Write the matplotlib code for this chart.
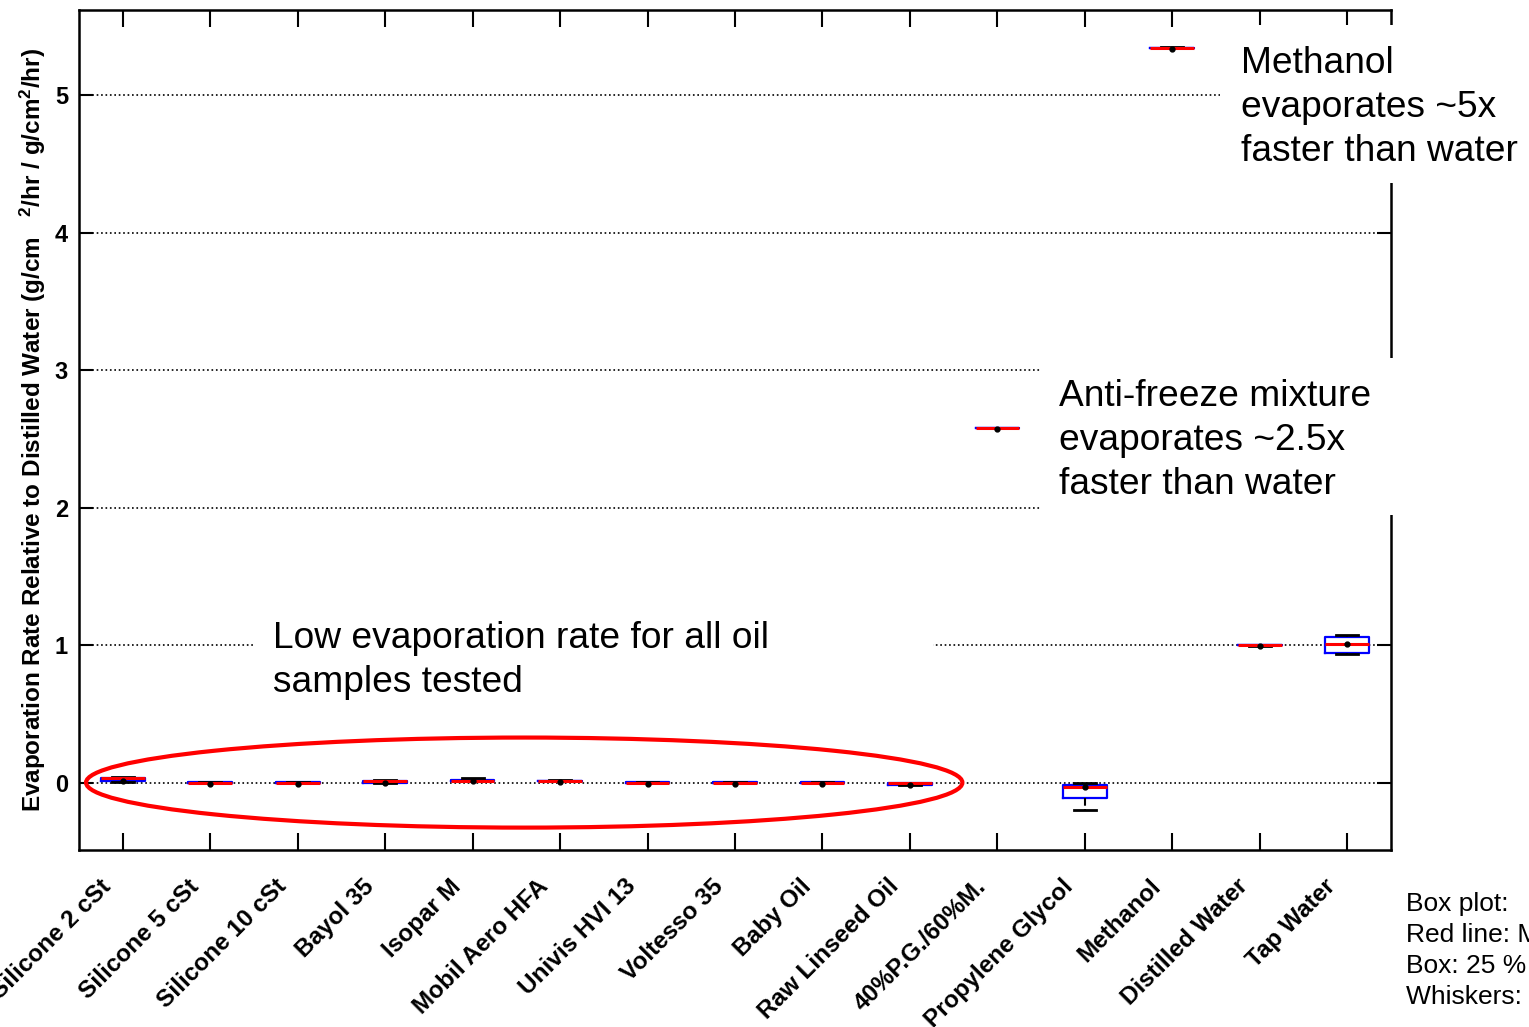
import matplotlib.pyplot as plt
import matplotlib.transforms as mtransforms
from matplotlib.patches import Ellipse, Rectangle

plt.rcParams['font.family'] = ['Liberation Sans', 'DejaVu Sans']
plt.rcParams['mathtext.default'] = 'regular'

samples = ["Silicone 2 cSt", "Silicone 5 cSt", "Silicone 10 cSt", "Bayol 35",
           "Isopar M", "Mobil Aero HFA", "Univis HVI 13", "Voltesso 35",
           "Baby Oil", "Raw Linseed Oil", "40%P.G./60%M.", "Propylene Glycol",
           "Methanol", "Distilled Water", "Tap Water"]

# evaporation rate relative to distilled water
q1     = [0.010, -0.003, -0.003, 0.000, 0.012, 0.010, -0.002, -0.002, -0.002, -0.015, 2.578, -0.110, 5.345, 0.998, 0.945]
median = [0.030, 0.000, 0.000, 0.012, 0.015, 0.012, 0.000, 0.000, 0.000, -0.003, 2.578, -0.035, 5.345, 1.000, 1.005]
q3     = [0.035, 0.002, 0.002, 0.015, 0.020, 0.015, 0.002, 0.002, 0.002, -0.002, 2.578, -0.020, 5.345, 1.002, 1.062]
lo     = [0.005, -0.005, -0.005, -0.002, 0.010, 0.008, -0.004, -0.004, -0.004, -0.020, 2.576, -0.196, 5.343, 0.996, 0.936]
hi     = [0.040, 0.003, 0.003, 0.018, 0.032, 0.018, 0.003, 0.003, 0.003, 0.000, 2.580, 0.000, 5.347, 1.004, 1.077]
mean   = [0.015, -0.010, -0.010, 0.000, 0.010, 0.005, -0.010, -0.010, -0.010, -0.020, 2.570, -0.035, 5.335, 0.990, 1.005]

fig = plt.figure(figsize=(15.29, 10.27), dpi=100)
ax = fig.add_axes([0.0517, 0.1724, 0.858, 0.8179])

positions = list(range(1, len(samples) + 1))
stats = []
for i in range(len(samples)):
    stats.append(dict(q1=q1[i], med=median[i], q3=q3[i], whislo=lo[i],
                      whishi=hi[i], mean=mean[i], fliers=[]))

ax.bxp(stats, positions=positions, widths=0.5, showmeans=True,
       boxprops=dict(color='blue', linewidth=1.6),
       medianprops=dict(color='red', linewidth=2.2),
       whiskerprops=dict(color='black', linewidth=1.5, linestyle='--'),
       capprops=dict(color='black', linewidth=2),
       meanprops=dict(marker='o', markerfacecolor='black', markeredgecolor='black',
                      markersize=3.5),
       zorder=3)

ax.set_xlim(0.5, 15.5)
ax.set_ylim(-0.49, 5.62)
ax.set_yticks(range(0, 6))
ax.set_xticks(positions)
ax.set_xticklabels([])
for lab in ax.get_yticklabels():
    lab.set_fontsize(17)
    lab.set_fontweight('bold')

# slanted category names under each tick
label_trans = ax.get_xaxis_transform() + mtransforms.ScaledTranslation(
    -0.15, -0.33, fig.dpi_scale_trans)
for x, name in zip(positions, samples):
    ax.text(x, 0, name, transform=label_trans, fontsize=17.5, fontweight='bold',
            rotation=45, ha='right', va='center', rotation_mode='anchor',
            clip_on=False)

ax.grid(axis='y', color='black', linestyle=':', linewidth=1.2)
ax.tick_params(axis='x', direction='in', length=12, width=1.5, top=True)
ax.tick_params(axis='y', direction='in', length=10, width=1.5, right=True, pad=8)
for s in ax.spines.values():
    s.set_linewidth(1.8)

ax.set_ylabel("Evaporation Rate Relative to Distilled Water (g/cm   $^{2}$/hr / g/cm$^{2}$/hr)",
              fontsize=17.5, fontweight='bold', labelpad=5)

# circle around the oil samples
ax.add_patch(Ellipse((5.59, 0.0), 10.02, 0.655, fill=False, edgecolor='red',
                     linewidth=3, zorder=4))

# white text boxes that sit over the grid and frame
ax.add_patch(Rectangle((2.49, 0.52), 7.77, 0.8, facecolor='white', edgecolor='none',
                       zorder=5, clip_on=False))
ax.add_patch(Rectangle((11.49, 1.95), 4.1, 1.14, facecolor='white', edgecolor='none',
                       zorder=5, clip_on=False))
ax.add_patch(Rectangle((13.55, 4.36), 2.05, 1.15, facecolor='white', edgecolor='none',
                       zorder=5, clip_on=False))

ax.text(2.714, 0.887, "Low evaporation rate for all oil\nsamples tested",
        fontsize=26.7, va='center', ha='left', linespacing=1.33, zorder=6)
ax.text(11.70, 2.488, "Anti-freeze mixture\nevaporates ~2.5x\nfaster than water",
        fontsize=26.7, va='center', ha='left', linespacing=1.33, zorder=6, clip_on=False)
ax.text(13.78, 4.91, "Methanol\nevaporates ~5x\nfaster than water",
        fontsize=26.7, va='center', ha='left', linespacing=1.33, zorder=6, clip_on=False)

fig.text(0.9196, 0.018, "Box plot:\nRed line: Median\nBox: 25 % - 75 %\nWhiskers: Min - Max",
         fontsize=19, va='bottom', ha='left', linespacing=1.36)

fig.savefig("out.png", dpi=100)
plt.close(fig)
